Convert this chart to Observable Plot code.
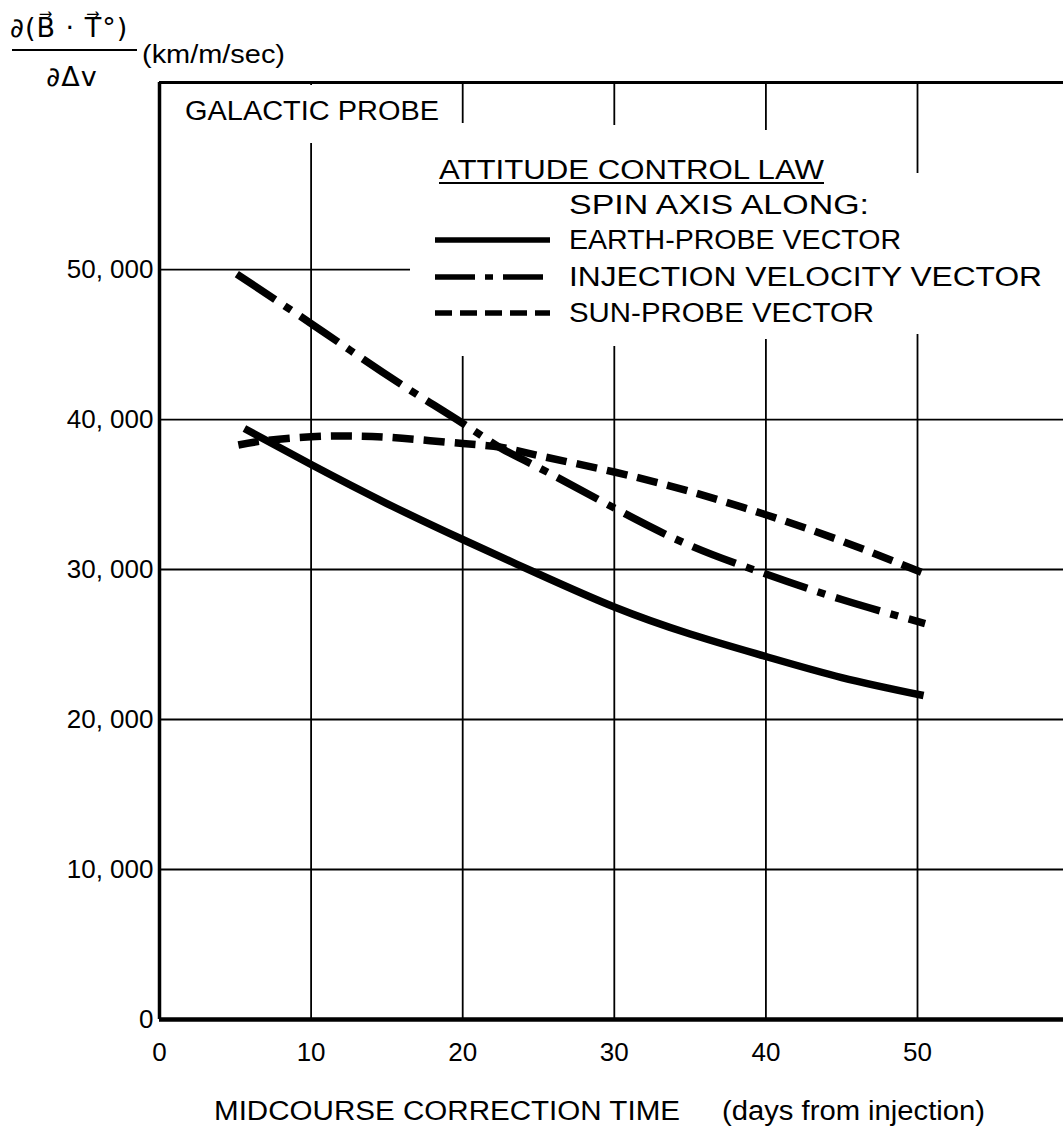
<!DOCTYPE html>
<html>
<head>
<meta charset="utf-8">
<script src="https://cdn.jsdelivr.net/npm/d3@7"></script>
<script src="https://cdn.jsdelivr.net/npm/@observablehq/plot@0.6"></script>
<style>
  html, body { margin: 0; padding: 0; background: #fff; }
  #wrap { position: relative; width: 1063px; height: 1139px; background: #fff; overflow: hidden; }
  #overlay { position: absolute; left: 0; top: 0; pointer-events: none; }
  #overlay text { font-family: "Liberation Sans", "DejaVu Sans", sans-serif; fill: #000; }
</style>
</head>
<body>
<div id="wrap"><div id="chart"></div></div>
<script>
// ---------- data ----------
const xTicks = [0, 10, 20, 30, 40, 50];
const yTicks = [0, 10000, 20000, 30000, 40000, 50000];
const xMax = 59.63;      // right edge of the drawing (days)
const yMax = 62470;      // top frame line

const earthDays   = [5.6, 10, 15, 20, 25, 30, 35, 40, 45, 50.4];
const earthValues = [39400, 37000, 34400, 32000, 29700, 27500, 25700, 24200, 22800, 21600];

const injDays   = [5.1, 10, 12.6, 16, 20, 22.5, 25, 30, 35, 40, 45, 50.5];
const injValues = [49700, 46400, 44600, 42300, 39750, 38100, 36800, 34100, 31600, 29700, 28000, 26400];

const sunDays   = [5.2, 7, 10, 13, 16, 20, 22.5, 25, 30, 35, 40, 45, 50.3];
const sunValues = [38300, 38600, 38850, 38900, 38750, 38400, 38150, 37600, 36500, 35200, 33650, 31900, 29800];

const seriesNames = ["EARTH-PROBE VECTOR", "INJECTION VELOCITY VECTOR", "SUN-PROBE VECTOR"];

// ---------- build tables ----------
const toRows = (days, vals) => days.map((d, i) => ({d, v: vals[i]}));
const series = [
  {name: seriesNames[0], rows: toRows(earthDays, earthValues), dash: null, legendDash: null},
  {name: seriesNames[1], rows: toRows(injDays, injValues), dash: "46,11,8,11", legendDash: "40,10,8,10"},
  {name: seriesNames[2], rows: toRows(sunDays, sunValues), dash: "21,10", legendDash: "17,8"}
];

const fmtY = d => d === 0 ? "0" : d3.format(",")(d).replace(",", ", ");

const chart = Plot.plot({
  width: 1063,
  height: 1139,
  marginLeft: 159,
  marginRight: 0,
  marginTop: 82,
  marginBottom: 120,
  x: {domain: [0, xMax]},
  y: {domain: [0, yMax]},
  style: {fontFamily: "Liberation Sans, DejaVu Sans, sans-serif", fontSize: "26px", color: "#000", background: "#fff", overflow: "visible"},
  marks: [
    Plot.ruleX(xTicks.filter(d => d > 0), {stroke: "#000", strokeWidth: 1.8}),
    Plot.ruleY(yTicks.filter(d => d > 0), {stroke: "#000", strokeWidth: 1.8}),
    Plot.ruleX([0], {stroke: "#000", strokeWidth: 3.5}),
    Plot.ruleY([0], {stroke: "#000", strokeWidth: 4.5}),
    Plot.ruleY([yMax], {stroke: "#000", strokeWidth: 3}),
    Plot.axisX({ticks: xTicks, tickSize: 0, tickPadding: 23, label: null, fontSize: 26, tickFormat: d => String(d)}),
    Plot.axisY({ticks: yTicks, tickSize: 0, tickPadding: 6, label: null, fontSize: 26, tickFormat: fmtY}),
    ...series.map(s => Plot.line(s.rows, {
      x: "d", y: "v", curve: "natural", stroke: "#000", strokeWidth: 7.5,
      strokeDasharray: s.dash || undefined, strokeLinecap: "butt"
    }))
  ]
});
document.getElementById("chart").appendChild(chart);

// ---------- overlay: labels, legend and grid interruptions ----------
const svg = d3.select("#wrap").append("svg")
  .attr("id", "overlay").attr("width", 1063).attr("height", 1139);

// white gaps where the draftsman interrupted grid lines around the texts
const gaps = [
  [300, 85, 21, 58],     // 10-day line under the title box
  [452, 123, 21, 233],   // 20-day line
  [600, 125, 21, 221],   // 30-day line
  [754, 130, 21, 209],   // 40-day line
  [907, 173, 21, 161],   // 50-day line
  [410, 263, 653, 16]    // 50,000 line right of the legend
];
svg.selectAll("rect.gap").data(gaps).join("rect")
  .attr("class", "gap")
  .attr("x", d => d[0]).attr("y", d => d[1]).attr("width", d => d[2]).attr("height", d => d[3])
  .attr("fill", "#fff");

function txt(str, x, y, size, len, anchor) {
  const t = svg.append("text").attr("x", x).attr("y", y).attr("font-size", size).text(str);
  if (len) t.attr("textLength", len).attr("lengthAdjust", "spacingAndGlyphs");
  if (anchor) t.attr("text-anchor", anchor);
  return t;
}

// y-axis label (fraction)
svg.append("text").attr("x", 10).attr("y", 37).attr("font-size", 27)
  .style("font-family", "DejaVu Sans, sans-serif").attr("letter-spacing", 1)
  .text("\u2202(B\u20D7 \u00B7 T\u20D7\u00B0)");
svg.append("line").attr("x1", 12).attr("x2", 137).attr("y1", 50).attr("y2", 50)
  .attr("stroke", "#000").attr("stroke-width", 2);
svg.append("text").attr("x", 72).attr("y", 86).attr("font-size", 27).attr("text-anchor", "middle")
  .style("font-family", "DejaVu Sans, sans-serif").attr("letter-spacing", 1)
  .text("\u2202\u0394v");
txt("(km/m/sec)", 142, 63, 25, 143);

// panel title
txt("GALACTIC PROBE", 185, 120, 27, 254);

// legend
txt("ATTITUDE CONTROL LAW", 439, 179, 27, 385);
svg.append("line").attr("x1", 439).attr("x2", 824).attr("y1", 183).attr("y2", 183)
  .attr("stroke", "#000").attr("stroke-width", 2);
txt("SPIN AXIS ALONG:", 569, 214, 27, 300);
const legendRows = [
  {y: 240, len: 332},
  {y: 277, len: 473},
  {y: 313, len: 305}
];
series.forEach((s, i) => {
  const r = legendRows[i];
  svg.append("line").attr("x1", 435).attr("x2", 550).attr("y1", r.y).attr("y2", r.y)
    .attr("stroke", "#000").attr("stroke-width", 5.5)
    .attr("stroke-dasharray", s.legendDash);
  txt(s.name, 569, r.y + 9, 27, r.len);
});

// x-axis title
txt("MIDCOURSE CORRECTION TIME", 214, 1120, 27, 466);
txt("(days from injection)", 722, 1120, 27, 263);
</script>
</body>
</html>
